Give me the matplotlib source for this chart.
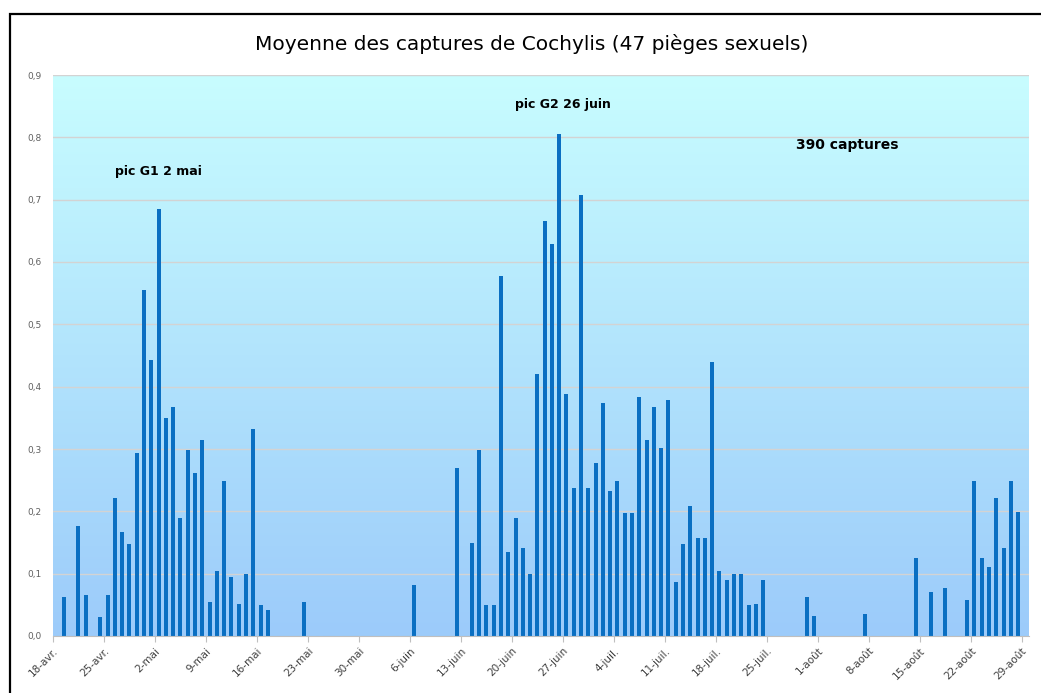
import matplotlib.pyplot as plt
import numpy as np
from matplotlib.patches import Rectangle

# jours comptes a partir du 18 avril
jours = [1, 3, 4, 6, 7, 8, 9, 10, 11, 12, 13, 14, 15, 16, 17, 18, 19, 20,
         21, 22, 23, 24, 25, 26, 27, 28, 29, 34,
         49, 55, 57, 58, 59, 60, 61, 62, 63, 64, 65, 66, 67, 68, 69, 70,
         71, 72, 73, 74, 75, 76, 77, 78, 79, 80, 81, 82, 83, 84,
         85, 86, 87, 88, 89, 90, 91, 92, 93, 94, 95, 96, 97,
         103, 104, 111, 118, 120, 122, 125, 126, 127, 128, 129, 130, 131, 132]
moyennes = [0.062, 0.177, 0.066, 0.031, 0.066, 0.222, 0.167, 0.148, 0.294, 0.555,
            0.443, 0.685, 0.349, 0.367, 0.189, 0.298, 0.262, 0.315,
            0.054, 0.104, 0.249, 0.094, 0.051, 0.099, 0.332, 0.049, 0.042, 0.054,
            0.082, 0.269, 0.149, 0.298, 0.049, 0.049, 0.578, 0.134, 0.189, 0.141,
            0.099, 0.420, 0.665, 0.629, 0.805, 0.388,
            0.237, 0.707, 0.237, 0.277, 0.373, 0.232, 0.248, 0.198, 0.198, 0.383,
            0.315, 0.367, 0.302, 0.378,
            0.086, 0.148, 0.209, 0.157, 0.157, 0.440, 0.104, 0.090, 0.099, 0.099,
            0.049, 0.051, 0.090,
            0.062, 0.032, 0.036, 0.125, 0.070, 0.077, 0.058, 0.249, 0.125, 0.110,
            0.222, 0.141, 0.249, 0.199]

etiquettes = ['18-avr.', '25-avr.', '2-mai', '9-mai', '16-mai', '23-mai', '30-mai',
              '6-juin', '13-juin', '20-juin', '27-juin', '4-juil.', '11-juil.',
              '18-juil.', '25-juil.', '1-août', '8-août', '15-août', '22-août',
              '29-août']
graduations = [0.0, 0.1, 0.2, 0.3, 0.4, 0.5, 0.6, 0.7, 0.8, 0.9]

W, H = 1041, 693
fig = plt.figure(figsize=(W / 100, H / 100), dpi=100)
fig.patch.set_facecolor('white')

# cadre noir du graphique
fig.patches.append(Rectangle((10 / W, -0.05), 1.1, (H - 14) / H + 0.05,
                             transform=fig.transFigure, fill=False,
                             edgecolor='black', linewidth=1.6))

left, right, top, bottom = 53, 1029, 75, 636
ax = fig.add_axes([left / W, (H - bottom) / H, (right - left) / W, (bottom - top) / H])

# fond en degrade
grad = np.linspace(0, 1, 256).reshape(-1, 1)
c_haut = np.array([200, 253, 255]) / 255
c_bas = np.array([156, 203, 250]) / 255
img = c_haut + (c_bas - c_haut) * grad[:, :, None]
ax.imshow(img, extent=(-0.5, 133.5, 0, 0.9), aspect='auto', zorder=0)

for g in graduations[1:]:
    ax.axhline(g, color='#d3d3d3', linewidth=1, zorder=1)

ax.bar(jours, moyennes, width=0.55, color='#0a6fc2', zorder=2)

ax.set_xlim(-0.5, 133.5)
ax.set_ylim(0, 0.9)
ax.set_xticks([7 * k - 0.5 for k in range(len(etiquettes))])
ax.set_xticklabels(etiquettes, rotation=45, ha='right', rotation_mode='anchor',
                   fontsize=7.5, color='#404040')
ax.set_yticks(graduations)
ax.set_yticklabels([f'{g:.1f}'.replace('.', ',') for g in graduations],
                   fontsize=6.5, color='#606060')
ax.tick_params(axis='y', length=0, pad=8)
ax.tick_params(axis='x', length=4, color='#bfbfbf', pad=3)
for s in ['top', 'right', 'left']:
    ax.spines[s].set_visible(False)
ax.spines['bottom'].set_color('#bfbfbf')

ax.text(14, 0.745, 'pic G1 2 mai', ha='center', va='center', fontsize=9, fontweight='bold')
ax.text(69.5, 0.852, 'pic G2 26 juin', ha='center', va='center', fontsize=9, fontweight='bold')
ax.text(108.5, 0.787, '390 captures', ha='center', va='center', fontsize=10, fontweight='bold')

fig.text(532 / W, 1 - 44 / H, 'Moyenne des captures de Cochylis (47 pièges sexuels)',
         ha='center', va='center', fontsize=14.5)

fig.savefig('out.png', dpi=100)
